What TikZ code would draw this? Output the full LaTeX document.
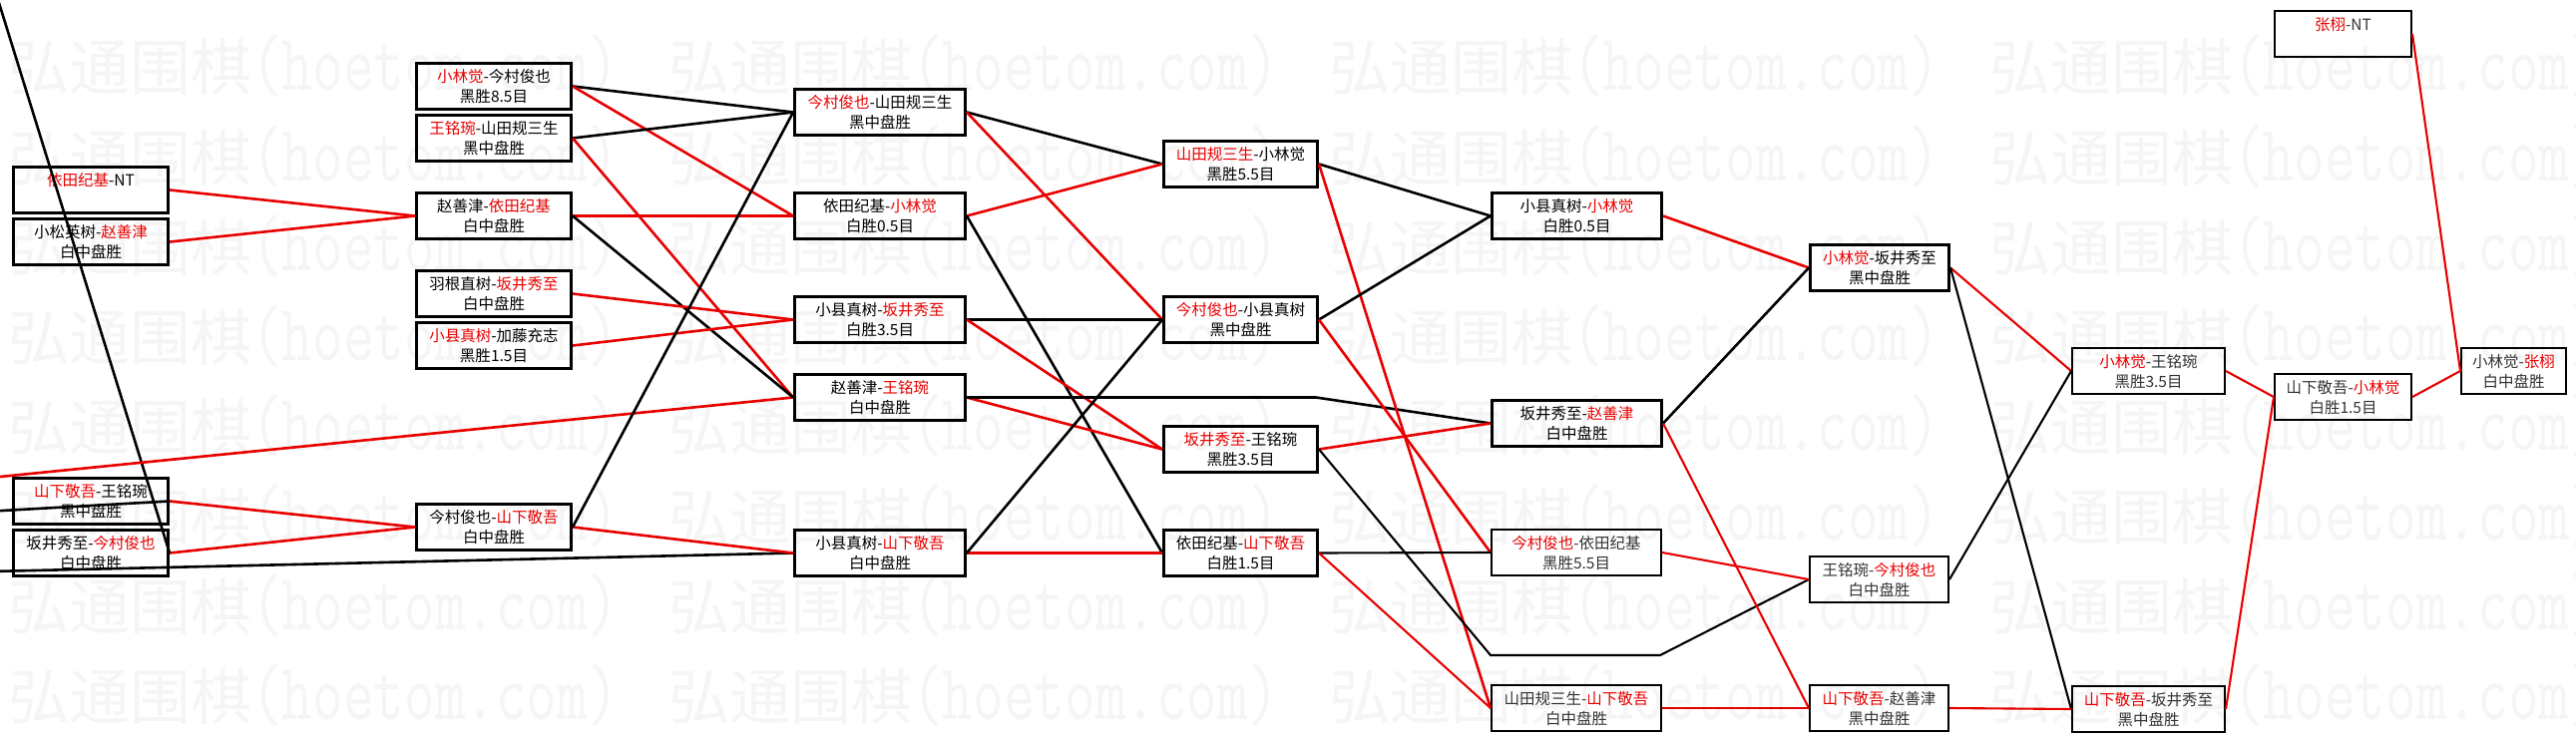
\documentclass[tikz,border=0pt]{standalone}
\usepackage{fontspec}
\usepackage{graphicx}
\newfontfamily\cjk{Noto Sans CJK SC}
\definecolor{wred}{RGB}{232,0,0}
\newcommand\wn[1]{\textcolor{wred}{#1}}
\newcommand\gm[8]{%
  \node[#5, minimum width=#4pt, anchor=north west] (#1) at (#2,#3) {};
  \node[#6] (#1a) at ([yshift=-15pt]#1.north) {#7};
  \node[#6] (#1b) at ([yshift=-35pt]#1.north) {#8};}
\tikzset{
  gbox/.style={draw=black, line width=3pt, inner sep=0pt, minimum height=46pt},
  lbox/.style={draw=black, line width=2pt, inner sep=0pt, minimum height=46pt},
  gtext/.style={font=\cjk\fontsize{15.5}{15.5}\selectfont, inner sep=0pt, text=black},
  ltext/.style={gtext, text=black!80},
  wline/.style={draw=wred, line width=2.6pt},
  bline/.style={draw=black, line width=2.6pt},
  wlinet/.style={draw=wred, line width=2.1pt},
  blinet/.style={draw=black, line width=2.1pt},
  wm/.style={text=black!4, anchor=base west, inner sep=0pt}
}
\begin{document}
\begin{tikzpicture}[x=1pt,y=-1pt]
\useasboundingbox (0,0) rectangle (2582,741);
\fill[white] (0,0) rectangle (2582,741);
% watermark
\foreach \r in {0,...,7}{
  \foreach \c in {0,...,3}{
    \node[wm] (wm-\r-\c) at ({8+662*\c},{91+90*\r})
      {{\cjk\fontsize{61}{61}\selectfont 弘通围棋}\scalebox{1}[1.35]{\ttfamily\fontsize{59.5}{59.5}\selectfont (hoetom.com)}};
  }
}
% boxes
\gm{a1}{12}{166}{155}{gbox}{gtext}{\wn{依田纪基}-NT}{}
\gm{a2}{12}{218}{155}{gbox}{gtext}{小松英树-\wn{赵善津}}{白中盘胜}
\gm{a3}{12}{478}{155}{gbox}{gtext}{\wn{山下敬吾}-王铭琬}{黑中盘胜}
\gm{a4}{12}{530}{155}{gbox}{gtext}{坂井秀至-\wn{今村俊也}}{白中盘胜}
\gm{b1}{416}{62}{155}{gbox}{gtext}{\wn{小林觉}-今村俊也}{黑胜8.5目}
\gm{b2}{416}{114}{155}{gbox}{gtext}{\wn{王铭琬}-山田规三生}{黑中盘胜}
\gm{b3}{416}{192}{155}{gbox}{gtext}{赵善津-\wn{依田纪基}}{白中盘胜}
\gm{b4}{416}{270}{155}{gbox}{gtext}{羽根直树-\wn{坂井秀至}}{白中盘胜}
\gm{b5}{416}{322}{155}{gbox}{gtext}{\wn{小县真树}-加藤充志}{黑胜1.5目}
\gm{b6}{416}{504}{155}{gbox}{gtext}{今村俊也-\wn{山下敬吾}}{白中盘胜}
\gm{c1}{795}{88}{171}{gbox}{gtext}{\wn{今村俊也}-山田规三生}{黑中盘胜}
\gm{c2}{795}{192}{171}{gbox}{gtext}{依田纪基-\wn{小林觉}}{白胜0.5目}
\gm{c3}{795}{296}{171}{gbox}{gtext}{小县真树-\wn{坂井秀至}}{白胜3.5目}
\gm{c4}{795}{374}{171}{gbox}{gtext}{赵善津-\wn{王铭琬}}{白中盘胜}
\gm{c5}{795}{530}{171}{gbox}{gtext}{小县真树-\wn{山下敬吾}}{白中盘胜}
\gm{d1}{1165}{140}{154}{gbox}{gtext}{\wn{山田规三生}-小林觉}{黑胜5.5目}
\gm{d2}{1165}{296}{154}{gbox}{gtext}{\wn{今村俊也}-小县真树}{黑中盘胜}
\gm{d3}{1165}{426}{154}{gbox}{gtext}{\wn{坂井秀至}-王铭琬}{黑胜3.5目}
\gm{d4}{1165}{530}{154}{gbox}{gtext}{依田纪基-\wn{山下敬吾}}{白胜1.5目}
\gm{e1}{1494}{192}{170}{gbox}{gtext}{小县真树-\wn{小林觉}}{白胜0.5目}
\gm{e2}{1494}{400}{170}{gbox}{gtext}{坂井秀至-\wn{赵善津}}{白中盘胜}
\gm{e3}{1494}{530}{170}{lbox}{ltext}{\wn{今村俊也}-依田纪基}{黑胜5.5目}
\gm{e4}{1494}{686}{170}{lbox}{ltext}{山田规三生-\wn{山下敬吾}}{白中盘胜}
\gm{f1}{1813}{244}{139}{gbox}{gtext}{\wn{小林觉}-坂井秀至}{黑中盘胜}
\gm{f2}{1813}{557}{139}{lbox}{ltext}{王铭琬-\wn{今村俊也}}{白中盘胜}
\gm{f3}{1813}{686}{139}{lbox}{ltext}{\wn{山下敬吾}-赵善津}{黑中盘胜}
\gm{g1}{2076}{348}{153}{lbox}{ltext}{\wn{小林觉}-王铭琬}{黑胜3.5目}
\gm{g2}{2076}{687}{153}{lbox}{ltext}{\wn{山下敬吾}-坂井秀至}{黑中盘胜}
\gm{h0}{2279}{10}{137}{lbox}{ltext}{\wn{张栩}-NT}{}
\gm{h1}{2279}{374}{137}{lbox}{ltext}{山下敬吾-\wn{小林觉}}{白胜1.5目}
\gm{i1}{2466}{348}{105}{lbox}{ltext}{小林觉-\wn{张栩}}{白中盘胜}
% free ends and bends
\coordinate (lt) at (-5,-10);
\coordinate (l3) at (-10,512.7);
\coordinate (l4) at (-10,479);
\coordinate (l5) at (-10,573);
\coordinate (p1) at (1319,397);
\coordinate (p2) at (1494,657);
\coordinate (p3) at (1664,657);
% connectors
\draw[wline] (a1.east) -- (b3.west);
\draw[wline] (a2.east) -- (b3.west);
\draw[wline] (a3.east) -- (b6.west);
\draw[wline] (a4.east) -- (b6.west);
\draw[bline] (lt) -- (a4.east);
\draw[bline] (l3) -- (a3.east);
\draw[wline] (l4) -- (c4.west);
\draw[bline] (l5) -- (c5.west);
\draw[bline] (b1.east) -- (c1.west);
\draw[wline] (b1.east) -- (c2.west);
\draw[bline] (b2.east) -- (c1.west);
\draw[wline] (b2.east) -- (c4.west);
\draw[wline] (b3.east) -- (c2.west);
\draw[bline] (b3.east) -- (c4.west);
\draw[wline] (b4.east) -- (c3.west);
\draw[wline] (b5.east) -- (c3.west);
\draw[wline] (b6.east) -- (c5.west);
\draw[bline] (b6.east) -- (c1.west);
\draw[bline] (c1.east) -- (d1.west);
\draw[wline] (c1.east) -- (d2.west);
\draw[wline] (c2.east) -- (d1.west);
\draw[bline] (c2.east) -- (d4.west);
\draw[bline] (c3.east) -- (d2.west);
\draw[wline] (c3.east) -- (d3.west);
\draw[wline] (c4.east) -- (d3.west);
\draw[bline] (c4.east) -- (c4.east -| p1) -- (e2.west);
\draw[wline] (c5.east) -- (d4.west);
\draw[bline] (c5.east) -- (d2.west);
\draw[bline] (d1.east) -- (e1.west);
\draw[wline] (d1.east) -- (e4.west);
\draw[bline] (d2.east) -- (e1.west);
\draw[wline] (d2.east) -- (e3.west);
\draw[wline] (d3.east) -- (e2.west);
\draw[blinet] (d3.east) -- (p2) -- (p3) -- (f2.west);
\draw[blinet] (d4.east) -- (e3.west);
\draw[wlinet] (d4.east) -- (e4.west);
\draw[wline] (e1.east) -- (f1.west);
\draw[bline] (e2.east) -- (f1.west);
\draw[wlinet] (e2.east) -- (f3.west);
\draw[wlinet] (e3.east) -- (f2.west);
\draw[wlinet] (e4.east) -- (f3.west);
\draw[wlinet] (f1.east) -- (g1.west);
\draw[blinet] (f1.east) -- (g2.west);
\draw[blinet] (f2.east) -- (g1.west);
\draw[wlinet] (f3.east) -- (g2.west);
\draw[wlinet] (g1.east) -- (h1.west);
\draw[wlinet] (g2.east) -- (h1.west);
\draw[wlinet] (h0.east) -- (i1.west);
\draw[wlinet] (h1.east) -- (i1.west);
\end{tikzpicture}
\end{document}
